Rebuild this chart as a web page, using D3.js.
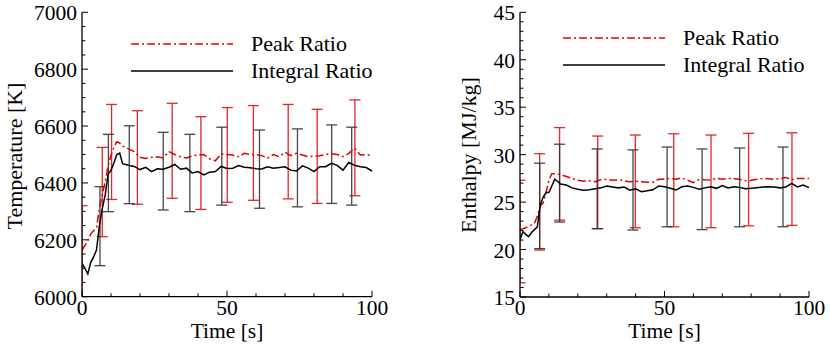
<!DOCTYPE html>
<html>
<head>
<meta charset="utf-8">
<script src="https://cdn.jsdelivr.net/npm/d3@7"></script>
<style>
  body { margin: 0; background: #fff; }
  svg { display: block; }
  text { font-family: 'Liberation Serif', 'Times New Roman', Times, 'DejaVu Serif', serif; }
</style>
</head>
<body>
<svg id="chart" width="830" height="348"></svg>
<script>
// time samples shared by all curves
const time = [0, 1, 2, 3, 4, 5, 6, 7, 8, 9, 10, 11, 12, 13, 14,
  16, 18, 20, 22, 24, 26, 28, 30, 32, 34, 36, 38, 40, 42, 44, 46, 48, 50,
  52, 54, 56, 58, 60, 62, 64, 66, 68, 70, 72, 74, 76, 78, 80, 82, 84, 86,
  88, 90, 92, 94, 96, 98, 100];

// left panel: temperature [K]
const tempPeak = [6164, 6180, 6195, 6220, 6232, 6242, 6310, 6360, 6404, 6460, 6498, 6525, 6545, 6540, 6530,
  6520, 6510, 6490, 6486, 6490, 6492, 6488, 6510, 6500, 6492, 6488, 6495, 6498, 6500, 6485, 6478, 6502, 6500,
  6498, 6492, 6504, 6500, 6500, 6496, 6487, 6500, 6492, 6508, 6496, 6504, 6498, 6492, 6494, 6496, 6500, 6503,
  6500, 6492, 6504, 6522, 6498, 6500, 6496];
const tempIntegral = [6117, 6100, 6080, 6120, 6140, 6164, 6250, 6310, 6358, 6430, 6445, 6470, 6500, 6505, 6468,
  6462, 6458, 6447, 6455, 6440, 6450, 6448, 6455, 6465, 6448, 6452, 6435, 6440, 6428, 6438, 6440, 6458, 6451,
  6452, 6461, 6455, 6453, 6450, 6449, 6457, 6452, 6454, 6457, 6445, 6442, 6460, 6452, 6440, 6457, 6457, 6469,
  6462, 6445, 6472, 6462, 6457, 6454, 6442];

const tempPeakBarT = [0, 7, 10.2, 19.1, 31.1, 41, 50.1, 59.1, 71.1, 81.1, 94.1];
const tempPeakBarLo = [5990, 6211, 6342, 6325, 6346, 6307, 6332, 6339, 6344, 6328, 6355];
const tempPeakBarHi = [6320, 6525, 6676, 6654, 6680, 6633, 6665, 6672, 6676, 6659, 6692];
const tempIntBarT = [6.2, 9.1, 16.3, 28, 37.2, 48.2, 61.2, 74.3, 86.1, 93];
const tempIntBarLo = [6109, 6299, 6327, 6305, 6299, 6322, 6311, 6316, 6328, 6322];
const tempIntBarHi = [6387, 6571, 6601, 6578, 6571, 6596, 6586, 6590, 6604, 6596];

// right panel: enthalpy [MJ/kg]
const enthPeak = [22.06, 22.2, 22.3, 22.45, 22.6, 22.8, 23.5, 24.6, 24.9, 26.0, 27.3, 28.0, 28.0, 27.95, 27.9,
  27.7, 27.5, 27.3, 27.2, 27.25, 27.15, 27.35, 27.4, 27.3, 27.35, 27.25, 27.15, 27.2, 27.15, 27.1, 27.1, 27.4, 27.4,
  27.5, 27.4, 27.55, 27.3, 27.05, 27.4, 27.35, 27.33, 27.5, 27.4, 27.5, 27.45, 27.4, 27.26, 27.3, 27.4, 27.5, 27.45,
  27.4, 27.5, 27.6, 27.35, 27.5, 27.5, 27.5];
const enthIntegral = [21.0, 21.9, 21.6, 21.35, 21.8, 22.1, 22.4, 24.7, 25.5, 26.0, 26.0, 26.7, 27.4, 27.2, 26.9,
  26.8, 26.5, 26.35, 26.25, 26.3, 26.4, 26.5, 26.7, 26.6, 26.5, 26.6, 26.25, 26.4, 26.1, 26.2, 26.3, 26.7, 26.62,
  26.45, 26.27, 26.62, 26.7, 26.55, 26.35, 26.5, 26.62, 26.45, 26.75, 26.5, 26.62, 26.55, 26.4, 26.45, 26.52, 26.6, 26.62,
  26.6, 26.5, 26.6, 26.98, 26.6, 26.8, 26.52];

const enthPeakBarT = [0, 6.8, 13.7, 26.9, 39.9, 53.2, 66.1, 79.1, 94.1];
const enthPeakBarLo = [16.5, 19.95, 23.1, 22.2, 22.3, 22.4, 22.3, 22.5, 22.55];
const enthPeakBarHi = [27.3, 30.1, 32.85, 31.96, 32.07, 32.2, 32.07, 32.25, 32.3];
const enthIntBarT = [6.8, 13.7, 26.7, 39.1, 50.9, 63, 76, 91];
const enthIntBarLo = [20.1, 22.9, 22.2, 22.06, 22.4, 22.1, 22.4, 22.4];
const enthIntBarHi = [29.1, 31.1, 30.6, 30.5, 30.8, 30.6, 30.7, 30.8];

const seriesNames = ["Peak Ratio", "Integral Ratio"];
const red = "#e00000";
const serif = "'Liberation Serif', 'Times New Roman', Times, 'DejaVu Serif', serif";

const svg = d3.select("#chart").attr("font-family", serif);

function panel(o) {
  const x = d3.scaleLinear().domain([0, 100]).range([o.left, o.right]);
  const y = d3.scaleLinear().domain(o.yDomain).range([o.bottom, o.top]);
  const g = svg.append("g");

  const clipId = "clip" + o.id;
  svg.append("clipPath").attr("id", clipId)
    .append("rect")
    .attr("x", o.left).attr("y", o.top - 5)
    .attr("width", o.right - o.left + 10).attr("height", o.bottom - o.top + 5);

  const plot = g.append("g").attr("clip-path", `url(#${clipId})`);

  // error bars
  function bars(ts, lo, hi, color) {
    const b = plot.append("g").attr("stroke", color).attr("stroke-width", 1.3).attr("opacity", 0.9)
      .selectAll("g").data(ts.map((t, i) => ({t, lo: lo[i], hi: hi[i]}))).join("g");
    b.append("line").attr("x1", d => x(d.t)).attr("x2", d => x(d.t))
      .attr("y1", d => y(d.lo)).attr("y2", d => y(d.hi));
    b.append("line").attr("x1", d => x(d.t) - 5.5).attr("x2", d => x(d.t) + 5.5)
      .attr("y1", d => y(d.hi)).attr("y2", d => y(d.hi));
    b.append("line").attr("x1", d => x(d.t) - 5.5).attr("x2", d => x(d.t) + 5.5)
      .attr("y1", d => y(d.lo)).attr("y2", d => y(d.lo));
  }
  bars(o.peakBarT, o.peakBarLo, o.peakBarHi, "#e01010");
  bars(o.intBarT, o.intBarLo, o.intBarHi, "#333");

  const line = d3.line().x((d, i) => x(time[i])).y(d => y(d));
  plot.append("path").datum(o.peak).attr("d", line)
    .attr("fill", "none").attr("stroke", red).attr("stroke-width", 1.5)
    .attr("stroke-dasharray", "8,3,2,3");
  plot.append("path").datum(o.integral).attr("d", line)
    .attr("fill", "none").attr("stroke", "#000").attr("stroke-width", 1.5);

  // axes (ticks pointing inward)
  const ax = g.append("g").attr("stroke", "#000").attr("stroke-width", 1.3);
  ax.append("line").attr("x1", o.left).attr("x2", o.left).attr("y1", o.top).attr("y2", o.bottom);
  ax.append("line").attr("x1", o.left).attr("x2", o.right).attr("y1", o.bottom).attr("y2", o.bottom);

  const yMinor = d3.range(o.yDomain[0], o.yDomain[1] + o.yMinor / 2, o.yMinor);
  ax.selectAll(".ym").data(yMinor).join("line")
    .attr("x1", o.left).attr("x2", d => o.left + (Math.abs((d - o.yDomain[0]) % o.yMajor) < 1e-6 ? 6 : 3.5))
    .attr("y1", d => y(d)).attr("y2", d => y(d)).attr("stroke-width", 1);
  ax.selectAll(".xm").data(d3.range(0, 101, 10)).join("line")
    .attr("y1", o.bottom).attr("y2", d => o.bottom - (d % 50 === 0 ? 6 : 3.5))
    .attr("x1", d => x(d)).attr("x2", d => x(d)).attr("stroke-width", 1);

  const yMajor = d3.range(o.yDomain[0], o.yDomain[1] + o.yMajor / 2, o.yMajor);
  g.selectAll(".yl").data(yMajor).join("text")
    .attr("x", o.left - 5).attr("y", d => y(d)).attr("dy", "0.38em")
    .attr("text-anchor", "end").attr("font-size", 21.5).text(d => d);
  g.selectAll(".xl").data([0, 50, 100]).join("text")
    .attr("x", d => x(d)).attr("y", o.bottom + 18)
    .attr("text-anchor", "middle").attr("font-size", 21.5).text(d => d);

  g.append("text").attr("x", (o.left + o.right) / 2).attr("y", 338)
    .attr("text-anchor", "middle").attr("font-size", 21.5).text("Time [s]");
  g.append("text")
    .attr("transform", `translate(${o.titleX},${o.titleY}) rotate(-90)`)
    .attr("text-anchor", "middle").attr("font-size", 22).text(o.yTitle);

  // legend
  const lg = g.append("g");
  lg.append("line").attr("x1", o.legX).attr("x2", o.legX + 102)
    .attr("y1", o.legY).attr("y2", o.legY)
    .attr("stroke", red).attr("stroke-width", 1.5).attr("stroke-dasharray", "8,3,2,3");
  lg.append("line").attr("x1", o.legX).attr("x2", o.legX + 102)
    .attr("y1", o.legY + 27).attr("y2", o.legY + 27)
    .attr("stroke", "#000").attr("stroke-width", 1.5);
  lg.selectAll("text").data(seriesNames).join("text")
    .attr("x", o.legX + 120).attr("y", (d, i) => o.legY + 7 + i * 27)
    .attr("font-size", 22).text(d => d);
}

panel({
  id: "T", left: 82, right: 372, top: 12.3, bottom: 296.7,
  yDomain: [6000, 7000], yMajor: 200, yMinor: 50,
  peak: tempPeak, integral: tempIntegral,
  peakBarT: tempPeakBarT, peakBarLo: tempPeakBarLo, peakBarHi: tempPeakBarHi,
  intBarT: tempIntBarT, intBarLo: tempIntBarLo, intBarHi: tempIntBarHi,
  yTitle: "Temperature [K]", titleX: 22, titleY: 156, legX: 131, legY: 44
});

panel({
  id: "H", left: 520, right: 809, top: 12.3, bottom: 297,
  yDomain: [15, 45], yMajor: 5, yMinor: 1,
  peak: enthPeak, integral: enthIntegral,
  peakBarT: enthPeakBarT, peakBarLo: enthPeakBarLo, peakBarHi: enthPeakBarHi,
  intBarT: enthIntBarT, intBarLo: enthIntBarLo, intBarHi: enthIntBarHi,
  yTitle: "Enthalpy [MJ/kg]", titleX: 476, titleY: 155, legX: 563, legY: 38
});
</script>
</body>
</html>
